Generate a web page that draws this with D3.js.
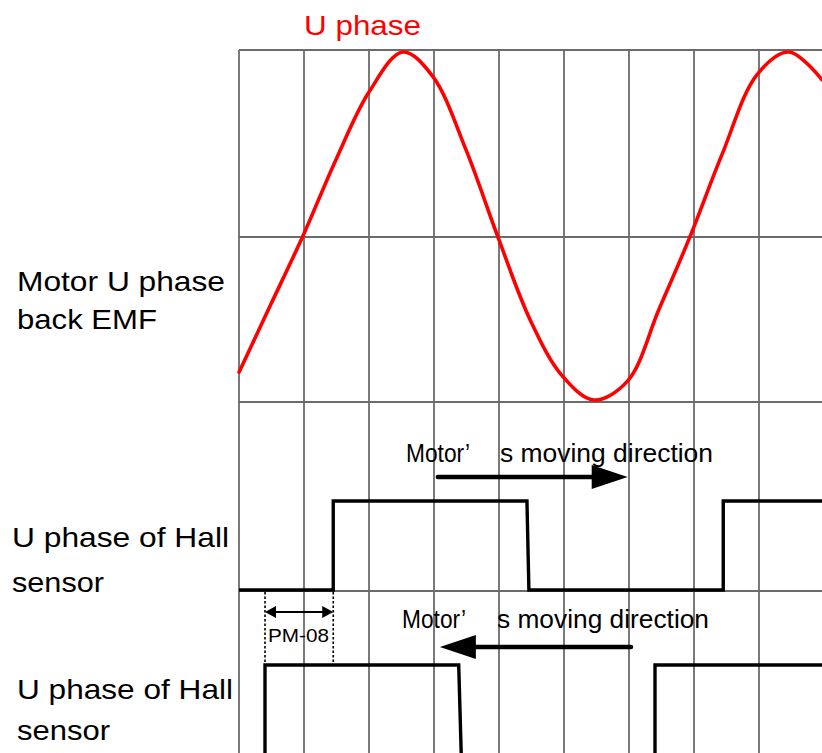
<!DOCTYPE html>
<html>
<head>
<meta charset="utf-8">
<script src="https://cdn.jsdelivr.net/npm/d3@7"></script>
<style>
  html, body { margin: 0; padding: 0; background: #fff; }
  svg { display: block; }
  text { font-family: "Liberation Sans", Arial, sans-serif; }
</style>
</head>
<body>
<svg id="chart" width="822" height="753"></svg>
<script>
// Time axis in grid divisions (one division = one vertical grid step)
const gridDivisions = [0, 1, 2, 3, 4, 5, 6, 7, 8, 9];

// Motor U phase back EMF, sampled along the time axis (normalised amplitude)
const emfTime  = [0, 0.49, 0.98, 1.49, 2.0, 2.52, 2.98, 3.49, 3.98, 4.48, 4.97, 5.46, 5.98, 6.46, 6.94, 7.43, 7.97, 8.46, 8.97];
const emfValue = [-0.84, -0.45, -0.06, 0.38, 0.77, 1.0, 0.86, 0.44, -0.06, -0.54, -0.86, -1.0, -0.89, -0.48, -0.06, 0.41, 0.87, 1.0, 0.84];

// Hall sensor U phase, forward rotation (time, logic level)
const hallFwdTime  = [0, 1.45, 1.45, 4.43, 4.46, 7.45, 7.45, 9.2];
const hallFwdLevel = [0, 0, 1, 1, 0, 0, 1, 1];

// Hall sensor U phase, reverse rotation (time, logic level)
const hallRevTime  = [0.3, 0.4, 0.4, 3.38, 3.42, 6.4, 6.4, 9.2];
const hallRevLevel = [0, 0, 1, 1, 0, 0, 1, 1];

// Direction arrows (start time, end time)
const arrowFwd = [3.06, 5.98];
const arrowRev = [6.03, 3.09];

// Labels
const titleText = "U phase";
const emfLabel = ["Motor U phase", "back EMF"];
const hallLabel = ["U phase of Hall", "sensor"];
const dirLabel = ["Motor\u2019", "s moving direction"];
const offsetLabel = "PM-08";

// ---- layout ----
const svg = d3.select("#chart");
const gridColor = "#6b6b6b";
const gridRows = [50, 237, 402, 591];

const x = d3.scaleLinear().domain([0, 9]).range([239, 824]);
const yEmf = d3.scaleLinear().domain([-1, 1]).range([400, 52]);
const yHallFwd = d3.scaleLinear().domain([0, 1]).range([590, 501]);
const yHallRev = d3.scaleLinear().domain([0, 1]).range([756.5, 665]);

// grid
const grid = svg.append("g");
grid.selectAll("line.v").data(gridDivisions).join("line")
  .attr("x1", d => x(d)).attr("x2", d => x(d))
  .attr("y1", gridRows[0]).attr("y2", 753)
  .attr("stroke", gridColor).attr("stroke-width", 1.8);
grid.selectAll("line.h").data(gridRows).join("line")
  .attr("x1", x(0)).attr("x2", 822)
  .attr("y1", d => d).attr("y2", d => d)
  .attr("stroke", gridColor).attr("stroke-width", 1.8);

// back EMF curve
const emfPts = emfTime.map((t, i) => [t, emfValue[i]]);
svg.append("path")
  .datum(emfPts)
  .attr("d", d3.line().x(d => x(d[0])).y(d => yEmf(d[1])).curve(d3.curveCatmullRom.alpha(0.5)))
  .attr("fill", "none").attr("stroke", "#ff0000").attr("stroke-width", 3.6)
  .attr("stroke-linejoin", "round").attr("stroke-linecap", "round");

// Hall waveforms
function hallPath(times, levels, yScale) {
  const pts = times.map((t, i) => [t, levels[i]]);
  svg.append("path")
    .datum(pts)
    .attr("d", d3.line().x(d => x(d[0])).y(d => yScale(d[1])))
    .attr("fill", "none").attr("stroke", "#000").attr("stroke-width", 3.4)
    .attr("stroke-linejoin", "miter");
}
hallPath(hallFwdTime, hallFwdLevel, yHallFwd);
hallPath(hallRevTime, hallRevLevel, yHallRev);

// PM-08 offset between the two rising edges
const tRev = hallRevTime[1], tFwd = hallFwdTime[1];
[tRev, tFwd].forEach(t => {
  svg.append("line")
    .attr("x1", x(t)).attr("x2", x(t))
    .attr("y1", yHallFwd(0) + 2).attr("y2", yHallRev(1) - 1)
    .attr("stroke", "#000").attr("stroke-width", 1.6).attr("stroke-dasharray", "2.5,2");
});
const dimY = 612;
svg.append("line")
  .attr("x1", x(tRev) + 6).attr("x2", x(tFwd) - 6)
  .attr("y1", dimY).attr("y2", dimY)
  .attr("stroke", "#000").attr("stroke-width", 1.8);
[[x(tRev), 1], [x(tFwd), -1]].forEach(([px, dir]) => {
  svg.append("path")
    .attr("d", `M${px},${dimY} L${px + dir * 11},${dimY - 6} L${px + dir * 11},${dimY + 6} Z`)
    .attr("fill", "#000");
});
svg.append("text")
  .attr("x", 268).attr("y", 642)
  .attr("font-size", 19).attr("textLength", 61).attr("lengthAdjust", "spacingAndGlyphs")
  .text(offsetLabel);

// direction arrows
function dirArrow(span, y) {
  const x0 = x(span[0]), x1 = x(span[1]);
  const dir = Math.sign(x1 - x0);
  const headLen = 36, headHalf = 12;
  svg.append("line")
    .attr("x1", x0).attr("x2", x1 - dir * headLen * 0.8)
    .attr("y1", y).attr("y2", y)
    .attr("stroke", "#000").attr("stroke-width", 4.6).attr("stroke-linecap", "round");
  svg.append("path")
    .attr("d", `M${x1},${y} L${x1 - dir * headLen},${y - headHalf} L${x1 - dir * headLen},${y + headHalf} Z`)
    .attr("fill", "#000");
}
dirArrow(arrowFwd, 477);
dirArrow(arrowRev, 647);

function dirText(xStart, xS, xEnd, baseline) {
  const t = svg.append("text").attr("y", baseline).attr("font-size", 25).attr("fill", "#000");
  t.append("tspan").attr("x", xStart).attr("textLength", 64).attr("lengthAdjust", "spacingAndGlyphs").text(dirLabel[0]);
  t.append("tspan").attr("x", xS).attr("textLength", xEnd - xS).attr("lengthAdjust", "spacingAndGlyphs").text(dirLabel[1]);
}
dirText(406, 500, 713, 462);
dirText(402, 497, 709, 628);

// titles and row labels
function label(str, px, py, len, color) {
  svg.append("text")
    .attr("x", px).attr("y", py)
    .attr("font-size", 28).attr("fill", color || "#000")
    .attr("textLength", len).attr("lengthAdjust", "spacingAndGlyphs")
    .text(str);
}
label(titleText, 304, 35, 117, "#ff0000");
label(emfLabel[0], 17, 291, 208);
label(emfLabel[1], 17, 329, 140);
label(hallLabel[0], 12, 547, 217);
label(hallLabel[1], 12, 592, 92);
label(hallLabel[0], 17, 699, 216);
label(hallLabel[1], 17, 740, 93);
</script>
</body>
</html>
